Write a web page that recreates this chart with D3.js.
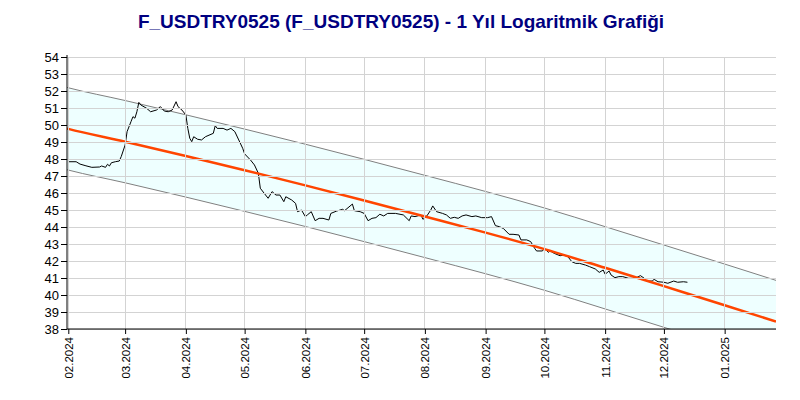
<!DOCTYPE html>
<html><head><meta charset="utf-8">
<script src="https://cdn.jsdelivr.net/npm/d3@7"></script>
<style>body{margin:0;background:#fff}svg{display:block}</style>
</head><body>
<svg id="c" width="800" height="400"></svg>
<script>
// ---- data ----
const titleText = "F_USDTRY0525 (F_USDTRY0525) - 1 Yıl Logaritmik Grafiği";
const seriesStart = "2024-02-01";
const dayOffsets = [0,4,6,9,12,16,17,19,20,21,22,24,26,27,29,30,32,33,34,35,36,37,40,42,45,47,49,51,53,55,56,58,60,61,62,63,64,66,68,70,74,75,76,79,81,83,85,87,89,90,93,95,97,98,100,102,104,106,108,110,111,114,116,117,119,121,122,124,126,128,130,133,134,137,140,141,145,146,149,151,153,155,157,159,161,163,167,171,174,175,177,180,181,183,185,186,188,191,193,195,197,199,201,203,206,208,211,214,216,218,220,222,225,227,230,231,234,236,238,239,242,243,245,246,248,251,253,255,257,259,261,264,266,269,271,273,274,276,277,279,281,283,286,288,290,292,294,295,298,299,301,304,306,309,311,314,316];
const prices = [47.84,47.84,47.70,47.60,47.51,47.53,47.59,47.51,47.69,47.59,47.78,47.84,47.88,48.14,48.82,49.61,50.20,50.49,50.40,50.78,51.33,51.18,50.98,50.78,50.88,51.08,50.82,50.78,50.88,51.37,51.08,50.88,50.59,49.80,49.22,49.02,49.31,49.16,49.12,49.31,49.51,49.96,49.80,49.80,49.70,49.80,49.61,49.12,48.63,48.30,47.94,47.65,47.16,46.28,45.98,45.69,46.08,45.88,45.88,45.49,45.78,45.59,45.39,44.90,45.00,44.61,44.71,44.90,44.37,44.51,44.51,44.41,44.80,44.94,45.04,44.96,45.35,44.96,44.90,44.80,44.37,44.51,44.55,44.75,44.65,44.80,44.80,44.71,44.37,44.65,44.61,44.71,44.45,44.65,45.00,45.24,44.90,44.80,44.71,44.51,44.57,44.51,44.65,44.71,44.61,44.65,44.55,44.55,44.61,44.08,44.02,43.92,43.57,43.57,43.53,43.24,43.24,43.14,42.75,42.59,42.59,42.75,42.51,42.59,42.45,42.31,42.35,42.25,41.96,41.86,41.86,41.76,41.67,41.53,41.33,41.47,41.22,41.41,41.18,41.02,41.08,41.08,40.98,40.98,41.02,41.14,40.98,40.82,40.82,40.92,40.78,40.75,40.69,40.82,40.75,40.78,40.75];
const axisDates = ["2024-01-31T08:00:00Z","2025-01-27T05:00:00Z"];
// logarithmic regression curve, read at the axis start, each month start and the axis end
const trendDates = ["2024-01-31T08:00:00Z","2024-02-01","2024-03-01","2024-04-01","2024-05-01","2024-06-01","2024-07-01","2024-08-01","2024-09-01","2024-10-01","2024-11-01","2024-12-01","2025-01-01","2025-01-27T05:00:00Z"];
const trendValues = [49.79, 49.77, 49.02, 48.18, 47.34, 46.45, 45.56, 44.62, 43.67, 42.70, 41.60, 40.52, 39.40, 38.44];
const bandHalfWidth = 2.42;           // channel half width
const yTicks = d3.range(38, 55, 1);
const monthTicks = ["2024-02-01","2024-03-01","2024-04-01","2024-05-01","2024-06-01","2024-07-01","2024-08-01","2024-09-01","2024-10-01","2024-11-01","2024-12-01","2025-01-01"];
const yDomain = [38, 54];

// ---- layout ----
const svg = d3.select("#c");
const L = 67, R = 776, T = 57, B = 329;
const x = d3.scaleUtc().domain(axisDates.map(d => new Date(d))).range([L, R]);
const y = d3.scaleLinear().domain(yDomain).range([B, T]);
const parse = d3.utcParse("%Y-%m-%d");
const start = parse(seriesStart);
const pts = dayOffsets.map((d, i) => ({date: d3.utcDay.offset(start, d), v: prices[i]}));
const tickDates = monthTicks.map(parse);
const trend = trendDates.map((d, i) => ({date: new Date(d.length > 10 ? d : d + "T00:00:00Z"), v: trendValues[i]}));

svg.append("defs").append("clipPath").attr("id", "clip")
  .append("rect").attr("x", L).attr("y", T).attr("width", R - L).attr("height", B - T);

const plot = svg.append("g").attr("clip-path", "url(#clip)");
const curve = d3.curveMonotoneX;

// channel band
const area = d3.area().curve(curve).x(d => x(d.date)).y0(d => y(d.v - bandHalfWidth)).y1(d => y(d.v + bandHalfWidth));
plot.append("path").datum(trend).attr("d", area).attr("fill", "#eeffff");

// grid
svg.append("g").selectAll("line").data(yTicks).join("line")
  .attr("x1", L).attr("x2", R).attr("y1", d => y(d)).attr("y2", d => y(d))
  .attr("stroke", "#d3d3d3").attr("stroke-width", 1).attr("shape-rendering", "crispEdges");
svg.append("g").selectAll("line").data(tickDates).join("line")
  .attr("x1", d => x(d)).attr("x2", d => x(d)).attr("y1", T).attr("y2", B)
  .attr("stroke", "#d3d3d3").attr("stroke-width", 1).attr("shape-rendering", "crispEdges");

// band edges
const smooth = d3.line().curve(curve).x(d => x(d.date)).y(d => y(d.v));
const line = d3.line().x(d => x(d.date)).y(d => y(d.v));
[bandHalfWidth, -bandHalfWidth].forEach(off => {
  plot.append("path").datum(trend.map(p => ({date: p.date, v: p.v + off})))
    .attr("d", smooth).attr("fill", "none").attr("stroke", "#808080").attr("stroke-width", 1);
});
// price line
plot.append("path").datum(pts).attr("d", line).attr("fill", "none")
  .attr("stroke", "#000").attr("stroke-width", 1);
// regression line
plot.append("path").datum(trend).attr("d", smooth).attr("fill", "none")
  .attr("stroke", "#ff4500").attr("stroke-width", 2.5);

// axes
const yAxis = d3.axisLeft(y).tickValues(yTicks).tickFormat(d3.format("d")).tickSize(6).tickPadding(2);
const gy = svg.append("g").attr("transform", `translate(${L},0)`).call(yAxis);
gy.select(".domain").attr("d", `M0,${T - 2}V${B}`);
gy.selectAll("text").attr("font-family", "Liberation Sans, Arial, sans-serif").attr("font-size", 13).attr("fill", "#000");

const xAxis = d3.axisBottom(x).tickValues(tickDates).tickFormat(d3.utcFormat("%m.%Y")).tickSize(5);
const gx = svg.append("g").attr("transform", `translate(0,${B})`).call(xAxis);
gx.select(".domain").attr("d", `M${L},0H${R}`);
gx.selectAll("text").attr("font-family", "Liberation Sans, Arial, sans-serif").attr("font-size", 11.5).attr("fill", "#000")
  .attr("transform", "rotate(-90)").attr("text-anchor", "end").attr("x", -8).attr("y", 0).attr("dy", "0.35em");

// title
svg.append("text").attr("x", 401).attr("y", 28).attr("text-anchor", "middle")
  .attr("font-family", "Liberation Sans, Arial, sans-serif").attr("font-weight", "bold")
  .attr("font-size", 19).attr("fill", "#000080").text(titleText);
</script>
</body></html>
